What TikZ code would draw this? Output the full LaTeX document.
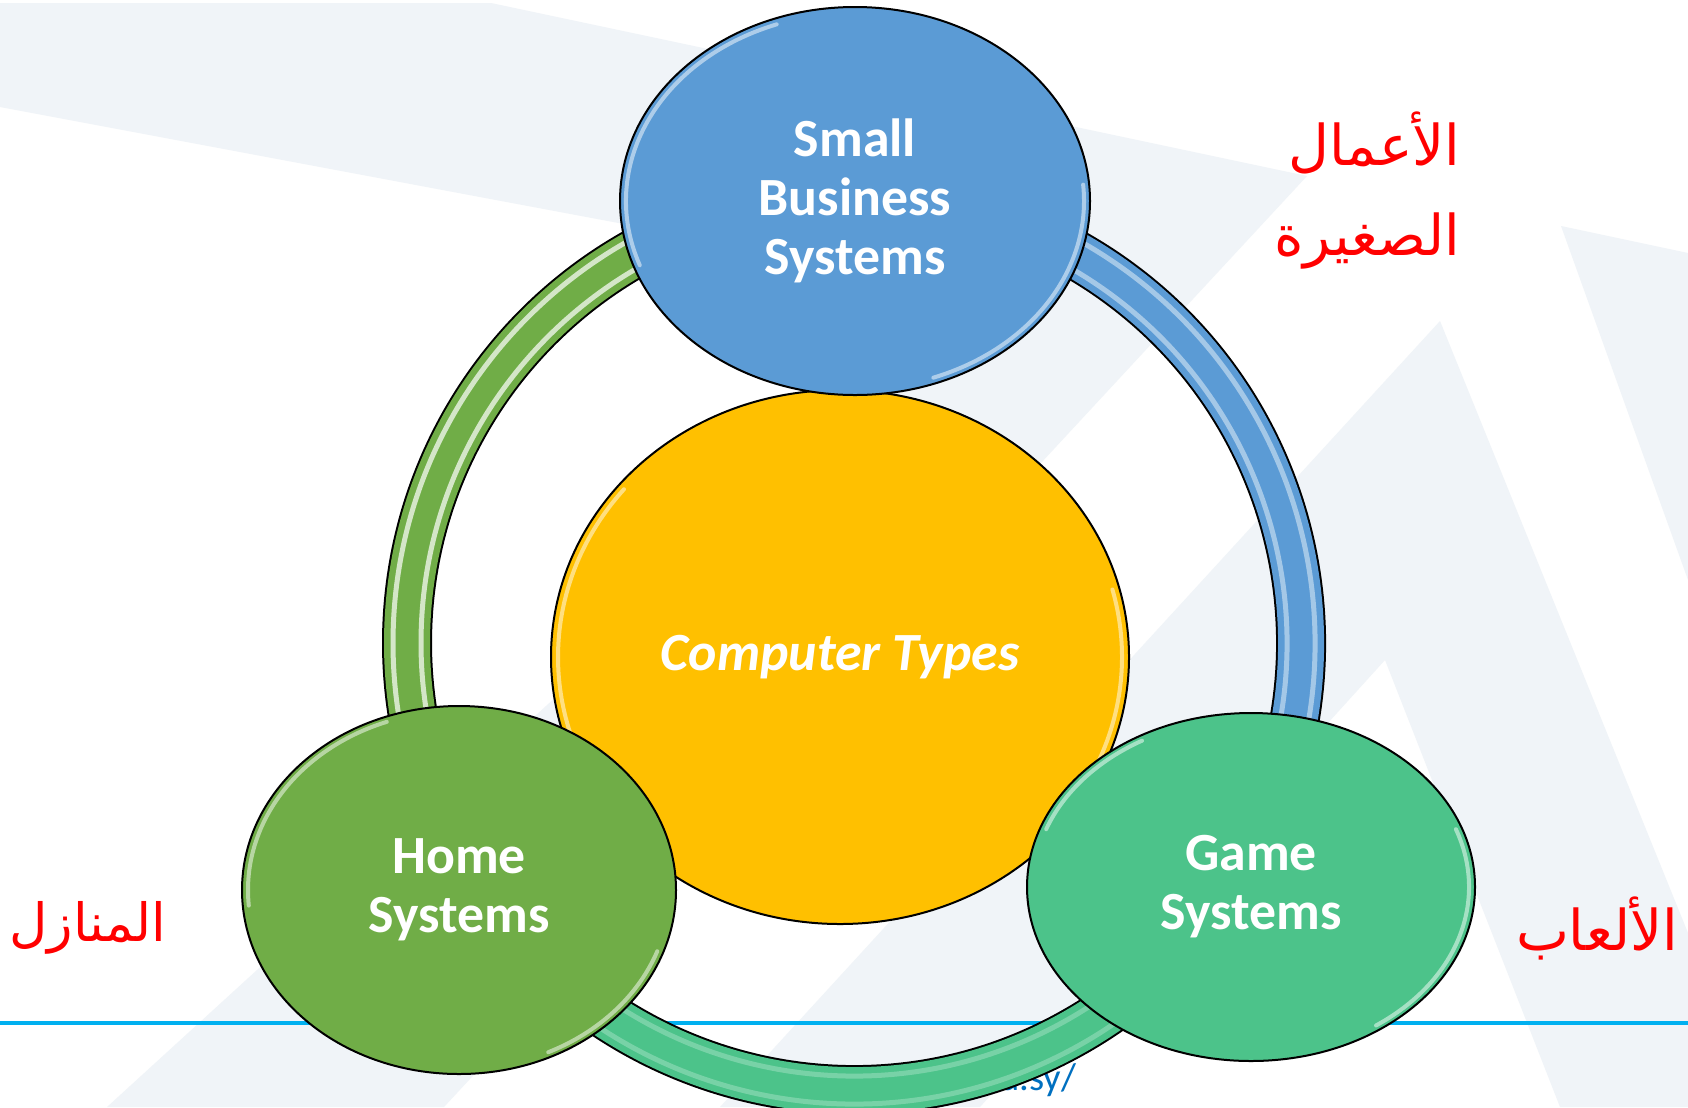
\documentclass[tikz,border=0pt]{standalone}
\usepackage{fontspec}
\setmainfont{Carlito}
\newfontfamily\arabicfont[Script=Arabic]{DejaVu Sans}
\TeXXeTstate=1
\usetikzlibrary{shapes.geometric,positioning}

\definecolor{bgstripe}{HTML}{F0F4F8}
\definecolor{bizblue}{HTML}{5B9BD5}
\definecolor{typesgold}{HTML}{FFC000}
\definecolor{homegreen}{HTML}{70AD47}
\definecolor{gameteal}{HTML}{4CC38A}
\definecolor{lineblue}{HTML}{00B0F0}
\definecolor{urlblue}{HTML}{0070C0}

\tikzset{
  bubble/.style={ellipse, draw=black, line width=0.2mm, inner sep=0pt, outer sep=0pt,
    text=white, align=center, font=\fontsize{15.3}{16.8}\selectfont\bfseries},
  ringedge/.style={draw=black, line width=5.0mm},
  ringfill/.style={line width=4.6mm},
  ringshine/.style={draw=white, line width=0.5mm},
  rim/.style={draw=white, line width=0.4mm, opacity=0.5, line cap=round},
  arabic/.style={text=red, inner sep=0pt, font=\fontsize{16}{25.6}\arabicfont},
  urltext/.style={text=urlblue, inner sep=0pt, font=\fontsize{11}{13}\selectfont},
}

\begin{document}
\begin{tikzpicture}[x=0.1mm, y=-0.1mm]
    \useasboundingbox (0,0) rectangle (1688,1107);

    % Background pattern
    \fill[white] (0,0) rectangle (1688,1107);
    \fill[bgstripe] (0,3) -- (491,3) -- (1307,176) -- (444,1107) -- (107,1107) -- (997,294) -- (0,107) -- cycle;
    \fill[bgstripe] (1440,321) -- (1688,933) -- (1688,1107) -- (1560,1107) -- (1385,660) -- (980,1107) -- (720,1107) -- cycle;
    \fill[bgstripe] (1561,226) -- (1688,253) -- (1688,580) -- cycle;

    % Footer line and link
    \coordinate (lineL) at (0,1023);
    \coordinate (lineR) at (1688,1023);
    \draw[lineblue, line width=0.4mm] (lineL) -- (lineR);
    \node[urltext, anchor=base east] (link) at (1077,1090) {edu.sy/};

    % Ring
    \coordinate (ringc) at (854,643);
    \foreach \a/\b/\c/\s in {90/210/homegreen/0.7, 210/330/gameteal/0.25, -30/90/bizblue/0.45} {
        \draw[ringedge] (ringc) ++(\a:44.7mm) arc[start angle=\a, end angle=\b, radius=44.7mm];
        \draw[ringfill, draw=\c] (ringc) ++(\a:44.7mm) arc[start angle=\a, end angle=\b, radius=44.7mm];
        \foreach \r in {43.3, 46.1}
            \draw[ringshine, opacity=\s] (ringc) ++(\a:\r mm) arc[start angle=\a, end angle=\b, radius=\r mm];
    }

    % Centre
    \node[bubble, fill=typesgold, minimum width=57.8mm, minimum height=53.4mm,
          font=\fontsize{15.3}{16.8}\selectfont\bfseries\itshape] (types) at (840,657) {Computer Types};
    \foreach \a/\b in {140/215, -35/15}
        \draw[rim] (types.center) ++(\a:28.2mm and 26.1mm) arc[start angle=\a, end angle=\b, x radius=28.2mm, y radius=26.1mm];

    % Small business
    \node[bubble, fill=bizblue, minimum width=47mm, minimum height=38.8mm] (biz) at (855,201) {Small\\Business\\Systems};
    \foreach \a/\b in {110/200, -70/5}
        \draw[rim] (biz.center) ++(\a:22.9mm and 18.8mm) arc[start angle=\a, end angle=\b, x radius=22.9mm, y radius=18.8mm];

    % Home
    \node[bubble, fill=homegreen, minimum width=43.4mm, minimum height=36.8mm] (home) at (459,890) {Home\\Systems};
    \foreach \a/\b in {110/185, -65/-20}
        \draw[rim] (home.center) ++(\a:21.1mm and 17.9mm) arc[start angle=\a, end angle=\b, x radius=21.1mm, y radius=17.9mm];

    % Game
    \node[bubble, fill=gameteal, minimum width=44.8mm, minimum height=34.8mm] (game) at (1251,887) {Game\\Systems};
    \foreach \a/\b in {120/160, -55/20}
        \draw[rim] (game.center) ++(\a:21.8mm and 16.9mm) arc[start angle=\a, end angle=\b, x radius=21.8mm, y radius=16.9mm];

    % Arabic labels
    \node[arabic, anchor=east, align=right] (bizlabel) at (1461,191) {\beginR الأعمال\endR\\\beginR الصغيرة\endR};
    \node[arabic, font=\fontsize{15}{18}\arabicfont] (homelabel) at (88,928) {\beginR المنازل\endR};
    \node[arabic] (gamelabel) at (1597,928) {\beginR الألعاب\endR};
\end{tikzpicture}
\end{document}
